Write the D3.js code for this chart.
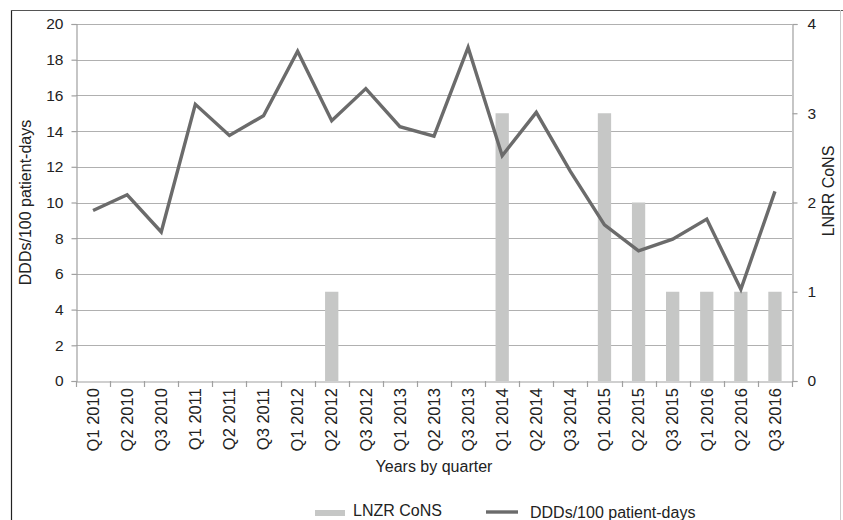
<!DOCTYPE html>
<html><head><meta charset="utf-8">
<script src="https://cdn.jsdelivr.net/npm/d3@7"></script>
<style>body{margin:0;background:#fff}svg{display:block}text{font-family:"Liberation Sans",Arial,sans-serif;fill:#222}</style>
</head><body>
<svg id="c" width="843" height="520"></svg>
<script>
const quarters = ["Q1 2010","Q2 2010","Q3 2010","Q1 2011","Q2 2011","Q3 2011","Q1 2012","Q2 2012","Q3 2012","Q1 2013","Q2 2013","Q3 2013","Q1 2014","Q2 2014","Q3 2014","Q1 2015","Q2 2015","Q3 2015","Q1 2016","Q2 2016","Q3 2016"];
const ddds = [9.55,10.43,8.35,15.5,13.76,14.86,18.47,14.58,16.38,14.25,13.72,18.69,12.62,15.05,11.74,8.75,7.29,7.95,9.07,5.14,10.62];
const lnzr = [0,0,0,0,0,0,0,1,0,0,0,0,3,0,0,3,2,1,1,1,1];
const leftTicks = [0,2,4,6,8,10,12,14,16,18,20];
const rightTicks = [0,1,2,3,4];

const svg = d3.select("#c");
const L = 76, R = 792, T = 24, B = 381;
const x = d3.scaleBand().domain(quarters).range([L, R]).paddingInner(0.61).paddingOuter(0.305);
const xc = d3.scaleBand().domain(quarters).range([L, R]);
const yL = d3.scaleLinear().domain([0,20]).range([B, T]);
const yR = d3.scaleLinear().domain([0,4]).range([B, T]);

// frame
svg.append("line").attr("x1",11.5).attr("x2",11.5).attr("y1",10).attr("y2",520).attr("stroke","#222").attr("stroke-width",1.2);
svg.append("line").attr("x1",11).attr("x2",843).attr("y1",10.5).attr("y2",10.5).attr("stroke","#555").attr("stroke-width",1.2);
svg.append("line").attr("x1",840.5).attr("x2",840.5).attr("y1",10).attr("y2",520).attr("stroke","#ccc").attr("stroke-width",1);

// gridlines
svg.append("g").selectAll("line").data(leftTicks.filter(d=>d>0)).join("line")
  .attr("x1",L).attr("x2",R).attr("y1",d=>Math.round(yL(d))+0.5).attr("y2",d=>Math.round(yL(d))+0.5)
  .attr("stroke","#b0b0b0").attr("stroke-width",1.2);

// bars
svg.append("g").selectAll("rect").data(quarters.map((q,i)=>({q,v:lnzr[i]})).filter(d=>d.v>0)).join("rect")
  .attr("x",d=>x(d.q)).attr("width",x.bandwidth())
  .attr("y",d=>yR(d.v)).attr("height",d=>B-yR(d.v)).attr("fill","#c6c7c6");

// line
const line = d3.line().x((d,i)=>xc(quarters[i])+xc.bandwidth()/2).y(d=>yL(d));
svg.append("path").datum(ddds).attr("d",line).attr("fill","none").attr("stroke","#6b6b6b").attr("stroke-width",3.4).attr("stroke-linejoin","miter");

// axes
const axL = svg.append("g").attr("transform",`translate(${L+0.5},0)`)
  .call(d3.axisLeft(yL).tickValues(leftTicks).tickSize(5).tickPadding(8));
const axR = svg.append("g").attr("transform",`translate(${R+0.5},0)`)
  .call(d3.axisRight(yR).tickValues(rightTicks).tickFormat(d3.format("d")).tickSize(5).tickPadding(10));
const axB = svg.append("g").attr("transform",`translate(0,${B+0.5})`)
  .call(d3.axisBottom(xc).tickSize(0).tickPadding(6));
[axL,axR,axB].forEach(a=>{a.attr("font-size",null).attr("font-family",null);
  a.selectAll(".domain").attr("stroke","#a0a0a0").attr("stroke-width",1.2);
  a.selectAll(".tick line").attr("stroke","#a0a0a0").attr("stroke-width",1.2);
  a.selectAll("text").style("font-size","15.5px").attr("fill","#222");});
axB.selectAll(".tick text").style("font-size","16.5px").attr("transform","rotate(-90)").attr("text-anchor","end").attr("dx","-0.4em").attr("dy","0.35em").attr("x",0).attr("y",0);
// boundary ticks on x axis
const bounds = quarters.map(q=>xc(q)).concat([R]);
svg.append("g").selectAll("line").data(bounds).join("line")
  .attr("x1",d=>Math.round(d)+0.5).attr("x2",d=>Math.round(d)+0.5).attr("y1",B).attr("y2",B+6)
  .attr("stroke","#a0a0a0").attr("stroke-width",1.2);

// titles
svg.append("text").attr("transform",`translate(31,${(T+B)/2}) rotate(-90)`).attr("text-anchor","middle").style("font-size","16px").text("DDDs/100 patient-days");
svg.append("text").attr("transform",`translate(834,191) rotate(-90)`).attr("text-anchor","middle").style("font-size","16px").text("LNRR CoNS");
svg.append("text").attr("x",(L+R)/2).attr("y",472).attr("text-anchor","middle").style("font-size","16px").text("Years by quarter");

// legend
const lg = svg.append("g");
lg.append("rect").attr("x",315).attr("y",510).attr("width",30).attr("height",6).attr("fill","#c6c7c6");
lg.append("text").attr("x",353).attr("y",516).style("font-size","16px").text("LNZR CoNS");
lg.append("line").attr("x1",486).attr("x2",518).attr("y1",512).attr("y2",512).attr("stroke","#6b6b6b").attr("stroke-width",3.4);
lg.append("text").attr("x",530).attr("y",518).style("font-size","16px").text("DDDs/100 patient-days");
</script>
</body></html>
